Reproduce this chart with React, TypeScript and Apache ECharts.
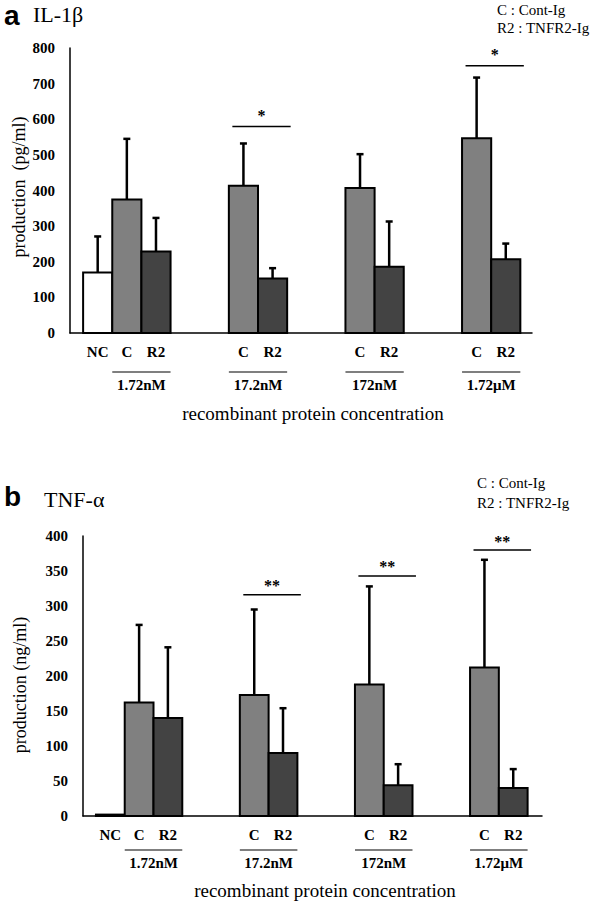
import React, { useEffect, useRef } from "react";
import * as echarts from "echarts";

// ---- data ----
const groups = ["1.72nM", "17.2nM", "172nM", "1.72μM"];
const barNames = ["C", "R2"];
const ncName = "NC";

const il1bNC = 170;
const il1bNCsd = 101;
const il1bC = [375, 413, 407, 547];
const il1bCsd = [170, 119, 95, 170];
const il1bR2 = [229, 153, 186, 207];
const il1bR2sd = [94, 29, 127, 44];
const il1bSig = ["", "*", "", "*"];
const il1bSigY = [0, 580, 0, 750];

const tnfNC = 2;
const tnfNCsd = 0;
const tnfC = [162, 173, 188, 212];
const tnfCsd = [111, 122, 140, 154];
const tnfR2 = [140, 90, 44, 40];
const tnfR2sd = [101, 64, 30, 27];
const tnfSig = ["", "**", "**", "**"];
const tnfSigY = [0, 316, 343, 380];

const il1bAxis = { min: 0, max: 800, interval: 100 };
const tnfAxis = { min: 0, max: 400, interval: 50 };

const legendLines = ["C : Cont-Ig", "R2 : TNFR2-Ig"];

// ---- style ----
const SERIF = "Liberation Serif";
const SANS = "Liberation Sans";
const fills = ["#ffffff", "#808080", "#434343"];

function textStyle(text: string, x: number, y: number, size: number, weight: string, family = SERIF, align = "center") {
  return {
    text,
    x,
    y,
    align,
    verticalAlign: "middle",
    fill: "#000",
    fontFamily: family,
    fontSize: size,
    fontWeight: weight,
  };
}

function panelSeries(
  idx: number,
  nc: number,
  ncsd: number,
  c: number[],
  csd: number[],
  r2: number[],
  r2sd: number[],
  sig: string[],
  sigY: number[],
  off: { lab: number; ul: number; grp: number; star: number }
) {
  const cSlot = (i: number) => 1 + 4 * i;
  const rSlot = (i: number) => 2 + 4 * i;
  const barData: number[][] = [[0, nc, ncsd, 0]];
  c.forEach((v, i) => barData.push([cSlot(i), v, csd[i], 1]));
  r2.forEach((v, i) => barData.push([rSlot(i), v, r2sd[i], 2]));

  const labTexts: string[] = [ncName];
  const labData: number[][] = [[0, 0]];
  groups.forEach((_, i) => {
    labData.push([cSlot(i), 0]);
    labTexts.push(barNames[0]);
    labData.push([rSlot(i), 0]);
    labTexts.push(barNames[1]);
  });

  const grpData = groups.map((_, i) => [cSlot(i) + 0.5, 0]);

  const sigData: number[][] = [];
  const sigTexts: string[] = [];
  sig.forEach((s, i) => {
    if (s) {
      sigData.push([cSlot(i) - 0.38, sigY[i], rSlot(i) + 0.62]);
      sigTexts.push(s);
    }
  });

  return [
    {
      type: "custom",
      xAxisIndex: idx,
      yAxisIndex: idx,
      clip: false,
      data: barData,
      renderItem: (params: any, api: any) => {
        const x = api.value(0);
        const v = api.value(1);
        const sd = api.value(2);
        const k = api.value(3);
        const w = api.size([1, 0])[0];
        const tl = api.coord([x, v]);
        const base = api.coord([x, 0]);
        const children: any[] = [];
        if (sd > 0) {
          const top = api.coord([x, v + sd]);
          children.push({
            type: "line",
            shape: { x1: tl[0], y1: tl[1], x2: top[0], y2: top[1] },
            style: { stroke: "#000", lineWidth: 2.5 },
          });
          children.push({
            type: "line",
            shape: { x1: top[0] - 3.5, y1: top[1], x2: top[0] + 3.5, y2: top[1] },
            style: { stroke: "#000", lineWidth: 2.5 },
          });
        }
        children.push({
          type: "rect",
          shape: { x: tl[0] - w / 2, y: tl[1], width: w, height: base[1] - tl[1] },
          style: { fill: fills[k], stroke: "#000", lineWidth: 2 },
        });
        return { type: "group", children };
      },
    },
    {
      type: "custom",
      xAxisIndex: idx,
      yAxisIndex: idx,
      clip: false,
      data: labData,
      renderItem: (params: any, api: any) => {
        const p = api.coord([api.value(0), 0]);
        return {
          type: "text",
          style: textStyle(labTexts[params.dataIndex], p[0], p[1] + off.lab, 15, "bold"),
        };
      },
    },
    {
      type: "custom",
      xAxisIndex: idx,
      yAxisIndex: idx,
      clip: false,
      data: grpData,
      renderItem: (params: any, api: any) => {
        const x = api.value(0);
        const p0 = api.coord([x - 1, 0]);
        const p1 = api.coord([x + 1, 0]);
        const pc = api.coord([x, 0]);
        return {
          type: "group",
          children: [
            {
              type: "line",
              shape: { x1: p0[0], y1: p0[1] + off.ul, x2: p1[0], y2: p1[1] + off.ul },
              style: { stroke: "#000", lineWidth: 1.2 },
            },
            {
              type: "text",
              style: textStyle(groups[params.dataIndex], pc[0], pc[1] + off.grp, 15, "bold"),
            },
          ],
        };
      },
    },
    {
      type: "custom",
      xAxisIndex: idx,
      yAxisIndex: idx,
      clip: false,
      data: sigData,
      renderItem: (params: any, api: any) => {
        const y = api.value(1);
        const p0 = api.coord([api.value(0), y]);
        const p1 = api.coord([api.value(2), y]);
        return {
          type: "group",
          children: [
            {
              type: "line",
              shape: { x1: p0[0], y1: p0[1], x2: p1[0], y2: p1[1] },
              style: { stroke: "#000", lineWidth: 1.5 },
            },
            {
              type: "text",
              style: textStyle(sigTexts[params.dataIndex], (p0[0] + p1[0]) / 2, p0[1] + off.star, 16, "bold"),
            },
          ],
        };
      },
    },
  ];
}

function yAxisOpt(gridIndex: number, ax: { min: number; max: number; interval: number }) {
  return {
    type: "value",
    gridIndex,
    min: ax.min,
    max: ax.max,
    interval: ax.interval,
    axisLine: { show: true, onZero: false, lineStyle: { color: "#000", width: 1.5 } },
    axisTick: { show: false },
    splitLine: { show: false },
    axisLabel: {
      color: "#000",
      fontFamily: SERIF,
      fontWeight: "bold",
      fontSize: 15,
      margin: 15,
    },
  };
}

function xAxisOpt(gridIndex: number, max: number) {
  return {
    type: "value",
    gridIndex,
    min: -0.95,
    max,
    axisLine: { show: true, onZero: false, lineStyle: { color: "#000", width: 1.5 } },
    axisTick: { show: false },
    axisLabel: { show: false },
    splitLine: { show: false },
  };
}

function txt(x: number, y: number, text: string, size: number, weight = "normal", family = SERIF, align = "left", rotation = 0) {
  return {
    type: "text",
    x,
    y,
    rotation,
    style: {
      text,
      fill: "#000",
      fontFamily: family,
      fontSize: size,
      fontWeight: weight,
      align,
      verticalAlign: "middle",
    },
  };
}

export default function App() {
  const ref = useRef<HTMLDivElement>(null);
  useEffect(() => {
    document.body.style.margin = "0";
    const chart = echarts.init(ref.current!, null, { renderer: "svg" });
    const option: any = {
      animation: false,
      backgroundColor: "#fff",
      grid: [
        { left: 70, top: 48, width: 462, height: 285 },
        { left: 83, top: 536, width: 459, height: 280 },
      ],
      xAxis: [xAxisOpt(0, 14.9), xAxisOpt(1, 15)],
      yAxis: [yAxisOpt(0, il1bAxis), yAxisOpt(1, tnfAxis)],
      series: [
        ...panelSeries(0, il1bNC, il1bNCsd, il1bC, il1bCsd, il1bR2, il1bR2sd, il1bSig, il1bSigY, {
          lab: 19,
          ul: 39,
          grp: 52,
          star: -11,
        }),
        ...panelSeries(1, tnfNC, tnfNCsd, tnfC, tnfCsd, tnfR2, tnfR2sd, tnfSig, tnfSigY, {
          lab: 19,
          ul: 34,
          grp: 47,
          star: -9,
        }),
      ],
      graphic: [
        txt(4, 15, "a", 28, "bold", SANS),
        txt(33, 14, "IL-1β", 22),
        txt(497, 10, legendLines[0], 15),
        txt(497, 28, legendLines[1], 15),
        txt(19, 187, "production  (pg/ml)", 18, "normal", SERIF, "center", Math.PI / 2),
        txt(313, 413, "recombinant protein concentration", 19, "normal", SERIF, "center"),
        txt(4, 496, "b", 28, "bold", SANS),
        txt(44, 499, "TNF-α", 22),
        txt(477, 483, legendLines[0], 15),
        txt(477, 503, legendLines[1], 15),
        txt(20, 685, "production (ng/ml)", 18, "normal", SERIF, "center", Math.PI / 2),
        txt(325, 890, "recombinant protein concentration", 19, "normal", SERIF, "center"),
      ],
    };
    chart.setOption(option);
    return () => chart.dispose();
  }, []);
  return <div ref={ref} style={{ width: 596, height: 902 }} />;
}
